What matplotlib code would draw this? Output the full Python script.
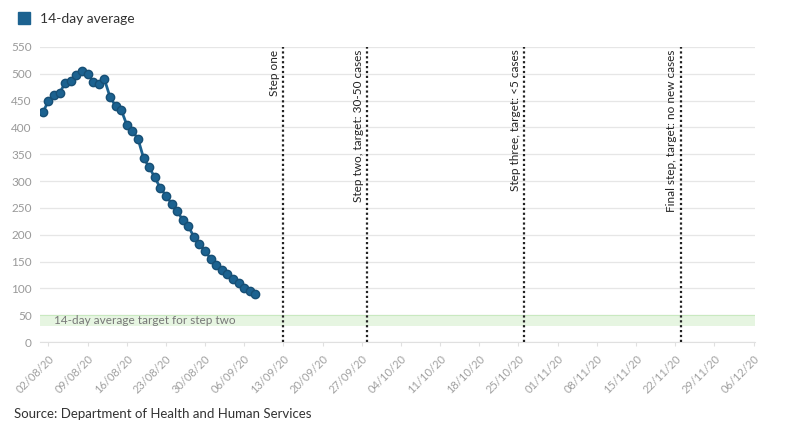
import matplotlib.pyplot as plt
import matplotlib.dates as mdates
from matplotlib.lines import Line2D
import numpy as np
import datetime as dt

# 14-day average of daily cases, 01/08/20 to 08/09/20
start = dt.date(2020, 8, 1)
avg = [428, 449, 460, 464, 483, 486, 497, 505, 500, 485, 481, 490, 457,
       440, 433, 405, 393, 379, 343, 326, 307, 287, 273, 258, 245, 227,
       216, 196, 183, 170, 155, 144, 135, 126, 118, 110, 101, 95, 89]
dates = [start + dt.timedelta(days=i) for i in range(len(avg))]

# roadmap steps
step_dates = [dt.date(2020, 9, 13), dt.date(2020, 9, 28),
              dt.date(2020, 10, 26), dt.date(2020, 11, 23)]
step_labels = ['Step one', 'Step two, target: 30-50 cases',
               'Step three, target: <5 cases', 'Final step, target: no new cases']

target_low, target_high = 30, 50
tick_dates = [dt.date(2020, 8, 2) + dt.timedelta(days=7 * i) for i in range(19)]

plt.rcParams['font.family'] = ['Lato', 'DejaVu Sans']

fig = plt.figure(figsize=(8, 4.26), dpi=100)
ax = fig.add_axes([0.05, 0.197, 0.894, 0.693])

blue = '#1c6290'
ax.plot(dates, avg, color=blue, lw=2, marker='o', markersize=6,
        markerfacecolor=blue, markeredgecolor='#174f75', markeredgewidth=1, zorder=4)

# target band
ax.axhspan(target_low, target_high, color='#e6f5e1', zorder=1, lw=0)
ax.axhline(target_high, color='#c9e9c0', lw=0.8, zorder=1)
ax.text(dt.date(2020, 8, 3), 40, '14-day average target for step two',
        color='#777777', fontsize=8.5, va='center', ha='left', zorder=2)

# step lines
for d, lab in zip(step_dates, step_labels):
    ax.axvline(d, color='#222222', lw=1.6, ls=(0, (1, 1.2)), zorder=3)
    ax.text(mdates.date2num(d) - 0.6, 545, lab, rotation=90, ha='right', va='top',
            fontsize=8.5, color='#222222')

ax.set_ylim(0, 550)
ax.set_yticks(np.arange(0, 551, 50))
ax.set_xlim(mdates.date2num(start) - 0.5, mdates.date2num(dt.date(2020, 12, 6)) + 0.3)
ax.set_xticks(tick_dates)
ax.xaxis.set_major_formatter(mdates.DateFormatter('%d/%m/%y'))
plt.setp(ax.get_xticklabels(), rotation=45, ha='right', rotation_mode='anchor')

ax.grid(axis='y', color='#e6e6e6', lw=0.9)
ax.set_axisbelow(True)
for s in ['top', 'right', 'left']:
    ax.spines[s].set_visible(False)
ax.spines['bottom'].set_color('#e0e0e0')
ax.tick_params(axis='x', colors='#e0e0e0', labelcolor='#a0a0a0', labelsize=8, length=3, pad=5)
ax.tick_params(axis='y', length=0, labelcolor='#999999', labelsize=8.5, pad=6)

handle = Line2D([], [], marker='s', color=blue, ls='none', markersize=9)
fig.legend([handle], ['14-day average'], loc='upper left', bbox_to_anchor=(0.0, 0.993),
           frameon=False, fontsize=10, handletextpad=0.2, borderaxespad=0.3,
           labelcolor='#333333')

fig.text(0.018, 0.018, 'Source: Department of Health and Human Services',
         fontsize=9.5, color='#333333')

fig.savefig('out.png', dpi=100)
